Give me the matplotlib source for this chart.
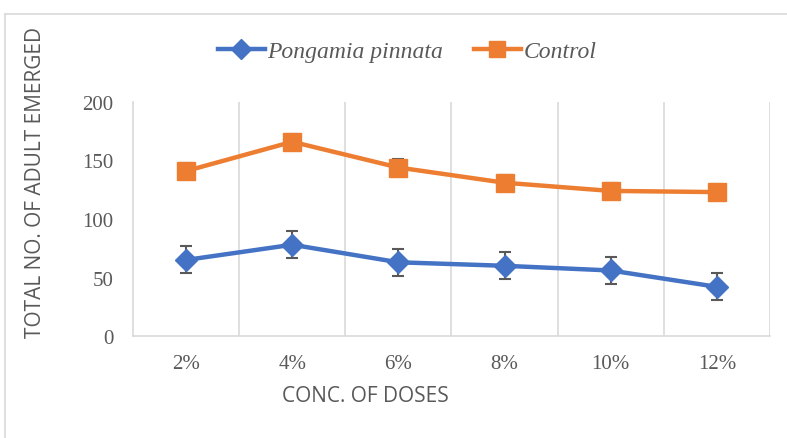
import matplotlib
matplotlib.use('Agg')
import matplotlib.pyplot as plt
from matplotlib.lines import Line2D
import numpy as np

# data
doses = ['2%', '4%', '6%', '8%', '10%', '12%']
pongamia = [65, 78, 63, 60, 56, 42]
pongamia_err = [11.5, 11.5, 11.5, 11.5, 11.5, 11.5]
control = [141, 166, 144, 131, 124, 123]
control_err = [7, 7, 7, 7, 7, 7]

W, H = 787, 439
fig = plt.figure(figsize=(W / 100, H / 100), dpi=100)
ax = fig.add_axes([133 / W, 1 - 337 / H, (770 - 133) / W, (337 - 103) / H])

grey = '#595959'
blue = '#4472C4'
orange = '#ED7D31'
x = np.arange(len(doses))

ax.errorbar(x, pongamia, yerr=pongamia_err, color=blue, lw=3.2, marker='D',
            ms=11, mec=blue, ecolor=grey, elinewidth=1.5, capsize=4.5,
            capthick=1.5, zorder=3)
ax.errorbar(x, control, yerr=control_err, color=orange, lw=3.2, marker='s',
            ms=13, mec=orange, ecolor=grey, elinewidth=1.5, capsize=4.5,
            capthick=1.5, zorder=3)

ax.set_xlim(-0.5, len(doses) - 0.5)
ax.set_ylim(0, 200)
ax.set_yticks([0, 50, 100, 150, 200])
ax.set_xticks(x)
ax.set_xticklabels(doses)
for xv in np.arange(0.5, len(doses), 1):
    ax.axvline(xv, color='#d9d9d9', lw=1.2, zorder=0)

for s in ['top', 'right']:
    ax.spines[s].set_visible(False)
for s in ['left', 'bottom']:
    ax.spines[s].set_color('#d9d9d9')
    ax.spines[s].set_linewidth(1.2)
ax.tick_params(length=0, colors=grey, labelsize=15)
ax.tick_params(axis='y', pad=14)
ax.tick_params(axis='x', pad=13)
for lab in ax.get_xticklabels() + ax.get_yticklabels():
    lab.set_family('Liberation Serif')

fig.text(36 / W, 1 - 183 / H, 'TOTAL NO. OF ADULT EMERGED', rotation=90,
         ha='center', va='center', color=grey, fontsize=15, family='Open Sans')
fig.text(365 / W, 1 - 397 / H, 'CONC. OF DOSES', ha='center', va='center',
         color=grey, fontsize=15, family='Open Sans')

handles = [Line2D([], [], color=blue, lw=3.2, marker='D', ms=10, mec=blue),
           Line2D([], [], color=orange, lw=3.2, marker='s', ms=11, mec=orange)]
leg = fig.legend(handles, ['Pongamia pinnata', 'Control'], loc='center',
                 bbox_to_anchor=(407 / W, 1 - 52 / H), ncol=2, frameon=False,
                 handlelength=2.0, handletextpad=0.1, columnspacing=1.3,
                 prop={'family': 'Liberation Serif', 'style': 'italic', 'size': 17})
for t in leg.get_texts():
    t.set_color(grey)

# outer chart border
fig.add_artist(Line2D([5 / W, 1], [1 - 15 / H, 1 - 15 / H], color='#d9d9d9', lw=1.2))
fig.add_artist(Line2D([5 / W, 5 / W], [0, 1 - 15 / H], color='#d9d9d9', lw=1.2))

fig.savefig('out.png', dpi=100)
